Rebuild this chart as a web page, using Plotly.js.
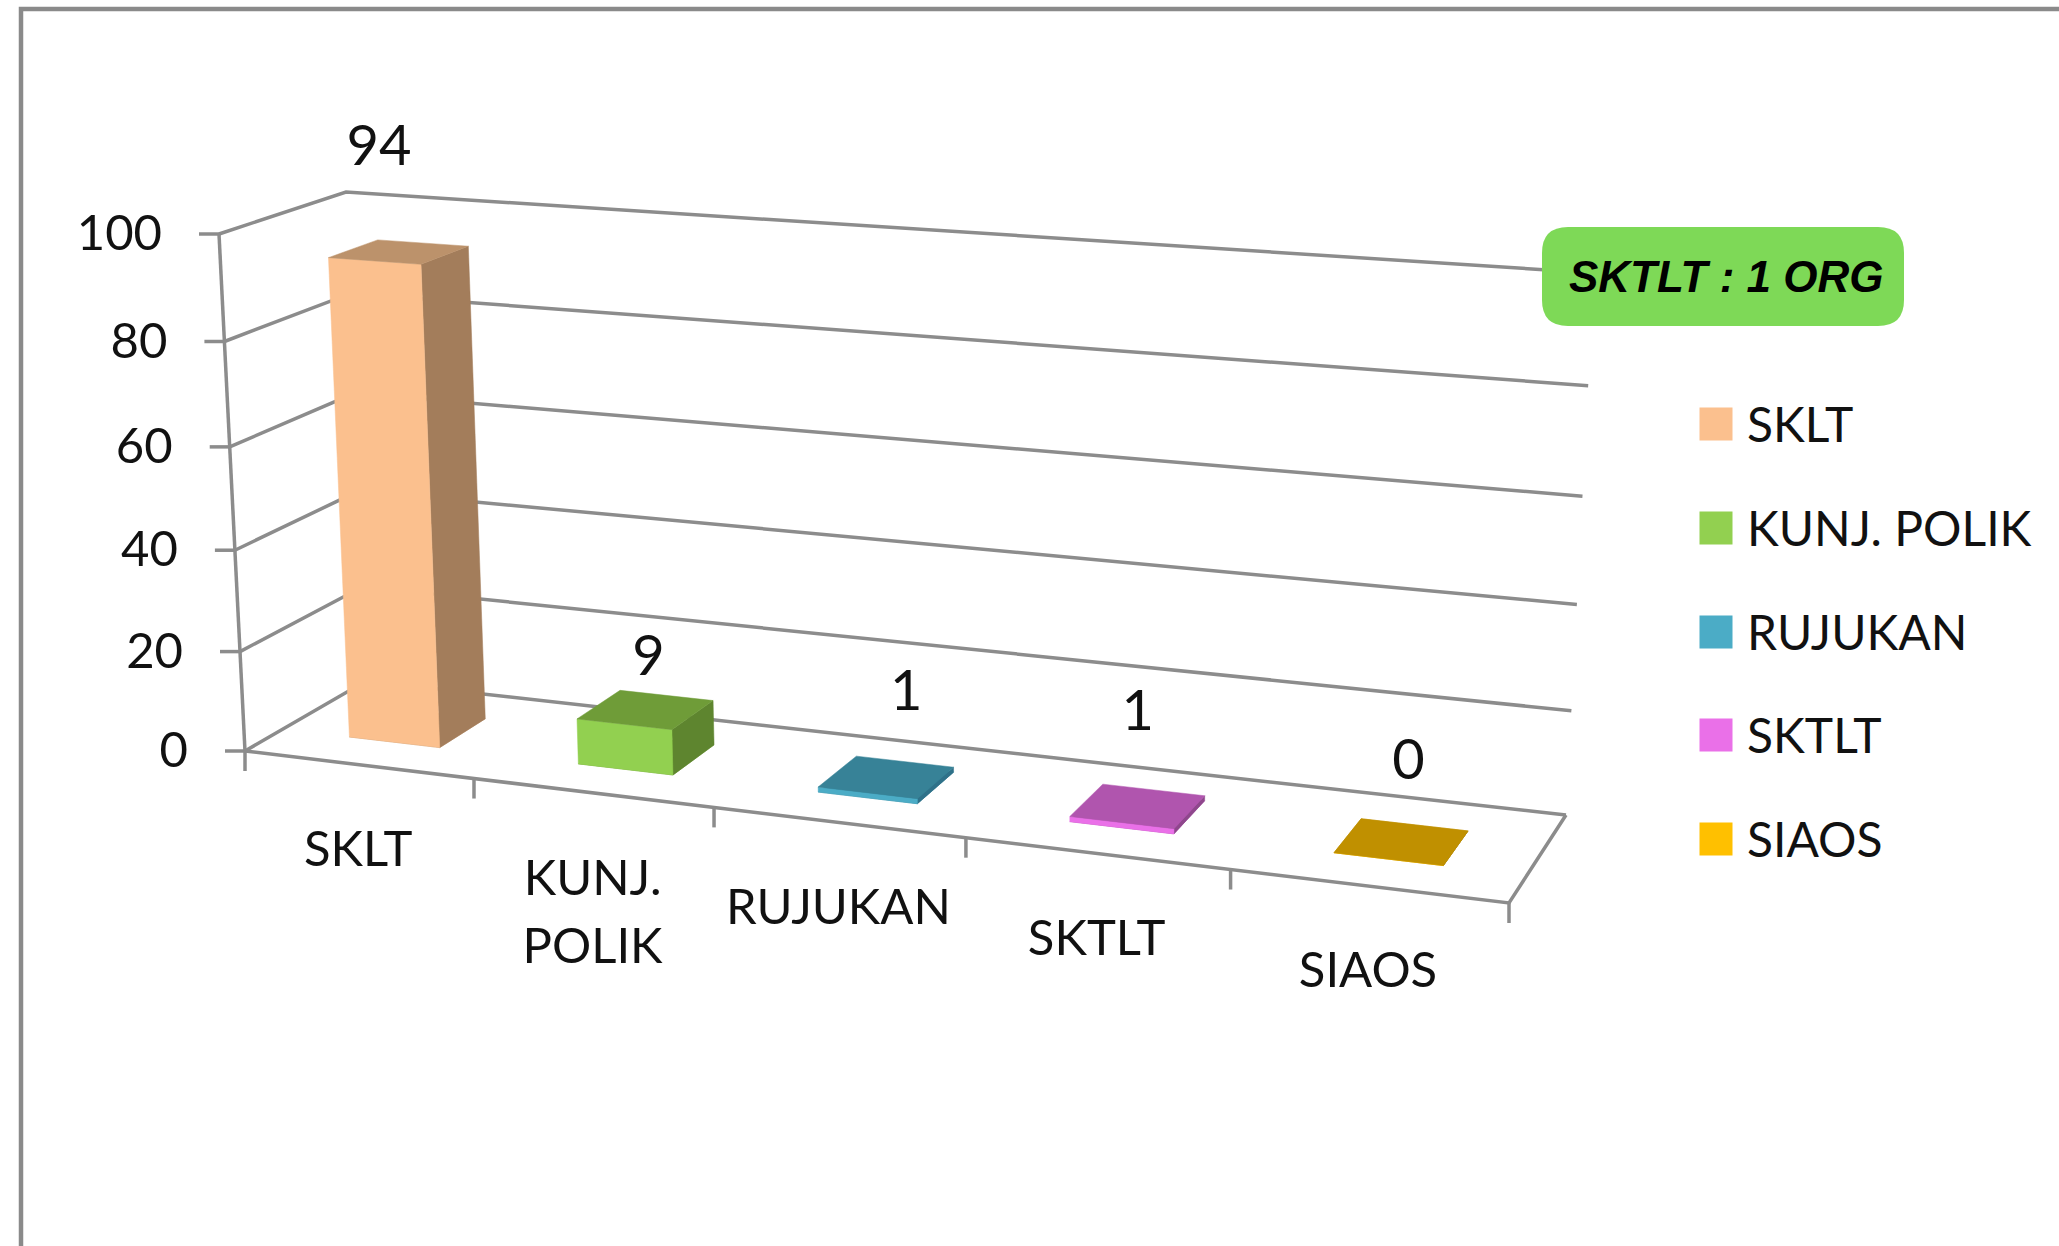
<!DOCTYPE html>
<html><head><meta charset="utf-8">
<script src="https://cdn.plot.ly/plotly-3.0.1.min.js"></script>
<style>html,body{margin:0;padding:0;background:#fff;overflow:hidden}#chart{width:2059px;height:1246px}</style>
</head><body><div id="chart"></div>
<script>
// ---- data ----
const categories = ['SKLT', 'KUNJ. POLIK', 'RUJUKAN', 'SKTLT', 'SIAOS'];
const values = [94, 9, 1, 1, 0];
const yTicks = [0, 20, 40, 60, 80, 100];
const calloutText = 'SKTLT : 1 ORG';

// ---- styles ----
const frontColors = ['#FBC08E', '#92D050', '#4BACC6', '#EA70E8', '#FFC000'];
const sideColors  = ['#A37D5B', '#5E852F', '#2F7189', '#8E478C', '#A07800'];
const topColors   = ['#BC926B', '#6F9C38', '#378297', '#B055AE', '#C09000'];
const axisColor = '#8C8C8C';
const FONT = 'Lato, "Open Sans", sans-serif';
const textColor = '#111111';

// ---- projection of the 3-D box onto the page (the hidden axes span the page in px) ----
const floorCorners = [[245,751],[1509,903],[1566,815],[366,681]];  // front-left, front-right, back-right, back-left
const topCorners   = [[219,234],[1545,328],[1594,273],[346,192]];
const heightPerspective = 0.05;
function homography(q){
  const [[x0,y0],[x1,y1],[x2,y2],[x3,y3]] = q;
  const dx1=x1-x2, dx2=x3-x2, sx=x0-x1+x2-x3, dy1=y1-y2, dy2=y3-y2, sy=y0-y1+y2-y3;
  const det=dx1*dy2-dx2*dy1;
  const g=(sx*dy2-dx2*sy)/det, h=(dx1*sy-sx*dy1)/det;
  return (u,v)=>{
    const w=g*u+h*v+1;
    return [((x1-x0+g*x1)*u+(x3-x0+h*x3)*v+x0)/w, ((y1-y0+g*y1)*u+(y3-y0+h*y3)*v+y0)/w];
  };
}
const Hf=homography(floorCorners), Ht=homography(topCorners);
const nCat=categories.length, vMax=yTicks[yTicks.length-1];
function P(c,d,val){ // category units, depth 0..1, value
  const a=Hf(c/nCat,d), b=Ht(c/nCat,d), s=val/vMax, t=s/(1+heightPerspective*(1-s));
  return [a[0]+(b[0]-a[0])*t, a[1]+(b[1]-a[1])*t];
}
const traces=[];
function line(points,color,width){
  traces.push({type:'scatter',mode:'lines',x:points.map(p=>p[0]),y:points.map(p=>p[1]),
    line:{color:color||axisColor,width:width||3.5},hoverinfo:'skip',showlegend:false});
}
function face(points,color,name){
  const pts=points.concat([points[0]]);
  traces.push({type:'scatter',mode:'lines',x:pts.map(p=>p[0]),y:pts.map(p=>p[1]),fill:'toself',fillcolor:color,
    line:{width:0.5,color:color},hoverinfo:'skip',showlegend:false,name:name});
}
function label(x,y,text,size,pos){
  traces.push({type:'scatter',mode:'text',x:[x],y:[y],text:[text],textposition:pos||'middle center',
    textfont:{family:FONT,size:size,color:textColor},hoverinfo:'skip',showlegend:false,cliponaxis:false});
}

// walls and gridlines
yTicks.forEach(v=>{
  line([P(0,0,v),P(0,1,v),P(nCat,1,v)]);
  const p=P(0,0,v);
  line([[p[0]-20,p[1]],p]);
});
line([P(0,0,0),P(0,0,vMax)]);
line([P(0,0,0),P(nCat,0,0),P(nCat,1,0)]);
for(let c=0;c<=nCat;c++){const p=P(c,0,0);line([p,[p[0],p[1]+20]]);}

// bars
const u0=0.30,u1=0.70,d0=0.30,d1=0.70;
categories.forEach((name,i)=>{
  const v=values[i],a=i+u0,b=i+u1;
  face([P(a,d1,0),P(b,d1,0),P(b,d0,0),P(a,d0,0)],topColors[i],name);
  face([P(b,d0,0),P(b,d1,0),P(b,d1,v),P(b,d0,v)],sideColors[i],name);
  face([P(a,d0,0),P(b,d0,0),P(b,d0,v),P(a,d0,v)],frontColors[i],name);
  face([P(a,d0,v),P(b,d0,v),P(b,d1,v),P(a,d1,v)],topColors[i],name);
});

// value-axis tick labels
yTicks.forEach(v=>{const p=P(0,0,v);label(p[0]-57,p[1]+4,String(v),49,'middle left');});

// category labels
const catLineGap=68;
categories.forEach((name,i)=>{
  const p=P(i+0.5,0,0), parts=name.split(' ');
  if(parts.length>1){
    parts.forEach((w,k)=>label(p[0],p[1]+124+(k-0.5)*catLineGap,w,49));
  } else label(p[0],p[1]+89,name,49);
});

// value labels
const nudge=[[-20,-101],[3,-49],[20,-81],[0,-90],[7,-77]];
categories.forEach((name,i)=>{
  const p=P(i+(u0+u1)/2,(d0+d1)/2,values[i]);
  label(p[0]+nudge[i][0],p[1]+nudge[i][1],String(values[i]),56);
});

// legend
const legendY=[424,528,632,735,839];
categories.forEach((name,i)=>{
  traces.push({type:'scatter',mode:'markers',x:[1716],y:[legendY[i]],
    marker:{symbol:'square',size:33,color:frontColors[i]},hoverinfo:'skip',showlegend:false});
  label(1747,legendY[i]+6,name,48,'middle right');
});

const rr=(x0,y0,x1,y1,r)=>`M${x0+r},${y0} L${x1-r},${y0} Q${x1},${y0} ${x1},${y0+r} L${x1},${y1-r} Q${x1},${y1} ${x1-r},${y1} L${x0+r},${y1} Q${x0},${y1} ${x0},${y1-r} L${x0},${y0+r} Q${x0},${y0} ${x0+r},${y0} Z`;
const layout={
  width:2059,height:1246,margin:{l:0,r:0,t:0,b:0},paper_bgcolor:'#fff',plot_bgcolor:'#fff',showlegend:false,
  xaxis:{range:[0,2059],visible:false,fixedrange:true},
  yaxis:{range:[1246,0],visible:false,fixedrange:true},
  shapes:[
    {type:'path',xref:'x',yref:'y',path:'M21,1300 L21,9 L2100,9',line:{color:'#8A8A8A',width:4.5},layer:'below'},
    {type:'path',xref:'x',yref:'y',path:rr(1542,227,1904,326,26),fillcolor:'#7ED957',line:{width:0},layer:'above'}
  ],
  annotations:[{xref:'x',yref:'y',x:1726,y:276,showarrow:false,text:'<b><i>'+calloutText+'</i></b>',
    font:{family:'"Liberation Sans",sans-serif',size:44,color:'#000'}}]
};
Plotly.newPlot('chart',traces,layout,{displayModeBar:false,staticPlot:true});
</script></body></html>
